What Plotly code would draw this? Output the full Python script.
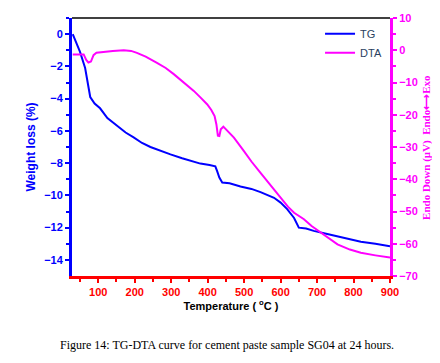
import plotly.graph_objects as go

tg_temp = [30, 40, 50, 64, 70, 78, 90, 105, 125, 151, 175, 197, 220, 243, 270, 298, 330, 360, 380, 405, 421,
           426, 432, 440, 460, 490, 520, 545, 565, 582, 600, 618, 637, 650, 670, 691, 728, 770, 820, 860, 900]
tg_loss = [0, -0.55, -1.1, -2.1, -2.8, -3.9, -4.3, -4.6, -5.2, -5.65, -6.1, -6.4, -6.75, -7.0, -7.25, -7.46,
           -7.7, -7.9, -8.03, -8.12, -8.2, -8.5, -8.9, -9.2, -9.25, -9.45, -9.6, -9.8, -10.0, -10.15, -10.45,
           -10.85, -11.4, -12.0, -12.05, -12.2, -12.4, -12.6, -12.87, -13.0, -13.15]

dta_temp = [30, 45, 60, 67, 73, 80, 87, 95, 115, 140, 170, 190, 206, 230, 261, 285, 307, 335, 362, 380, 399,
            410, 419, 424, 428, 432, 436, 443, 455, 472, 499, 520, 545, 570, 600, 620, 637, 650, 664, 685, 710,
            735, 756, 790, 820, 860, 900]
dta_uv = [-1.3, -1.2, -1.3, -3.0, -3.8, -3.5, -1.5, -0.8, -0.45, -0.2, 0.0, -0.2, -0.8, -2.0, -3.9, -5.5, -7.4,
          -10.0, -12.6, -14.6, -16.8, -18.5, -20.4, -23, -26.5, -26.6, -24.5, -23.7, -25, -27.1, -31.2, -34.5,
          -38.0, -41.5, -45.7, -48.5, -50.4, -51.3, -52.4, -54.5, -56.6, -58.7, -60.2, -61.8, -62.8, -63.6, -64.3]

BLUE = "#0000ff"
MAG = "#ff00ff"
RED = "#ff0000"
SANS = "Arial, Liberation Sans"
SERIF = "Liberation Serif, Times New Roman"

fig = go.Figure()
fig.add_trace(go.Scatter(x=tg_temp, y=tg_loss, mode="lines", name="TG",
                         line=dict(color=BLUE, width=2)))
fig.add_trace(go.Scatter(x=dta_temp, y=dta_uv, mode="lines", name="DTA", yaxis="y2",
                         line=dict(color=MAG, width=2)))

fig.update_layout(
    width=432, height=355,
    margin=dict(l=64, r=50, t=10, b=87, autoexpand=False),
    plot_bgcolor="white", paper_bgcolor="white",
    showlegend=True,
    legend=dict(x=0.78, y=0.995, xanchor="left", yanchor="top", bgcolor="rgba(0,0,0,0)",
                font=dict(family=SANS, size=11), tracegroupgap=0),
    xaxis=dict(range=[28, 900], tickvals=[100, 200, 300, 400, 500, 600, 700, 800, 900],
               ticks="outside", ticklen=4, tickwidth=2, tickcolor=RED, automargin=False,
               minor=dict(tickvals=[50, 150, 250, 350, 450, 550, 650, 750, 850], ticks="outside",
                          ticklen=3, tickwidth=2, tickcolor=RED),
               showline=True, linecolor=RED, linewidth=3, showgrid=False, zeroline=False,
               tickfont=dict(family=SANS, size=11, color=RED, weight="bold"),
               title=dict(text="Temperature ( <sup>o</sup>C )",
                          font=dict(family=SANS, size=11, color="black", weight="bold"),
                          standoff=0)),
    yaxis=dict(range=[-15, 1], tickvals=[0, -2, -4, -6, -8, -10, -12, -14], automargin=False,
               ticks="outside", ticklen=4, tickwidth=2, tickcolor=BLUE,
               minor=dict(tickvals=[1, -1, -3, -5, -7, -9, -11, -13], ticks="outside", ticklen=3,
                          tickwidth=2, tickcolor=BLUE),
               showline=True, linecolor=BLUE, linewidth=3, showgrid=False, zeroline=False,
               tickfont=dict(family=SANS, size=11, color=BLUE, weight="bold"),
               title=dict(text="Weight loss (%)",
                          font=dict(family=SANS, size=12, color=BLUE, weight="bold"),
                          standoff=6)),
    yaxis2=dict(range=[-70, 10], overlaying="y", side="right", automargin=False,
                tickvals=[10, 0, -10, -20, -30, -40, -50, -60, -70],
                ticks="outside", ticklen=4, tickwidth=2, tickcolor=MAG,
                minor=dict(tickvals=[5, -5, -15, -25, -35, -45, -55, -65], ticks="outside", ticklen=3,
                           tickwidth=2, tickcolor=MAG),
                showline=True, linecolor=MAG, linewidth=3, showgrid=False, zeroline=False,
                tickfont=dict(family=SANS, size=11, color=MAG, weight="bold")),
)

# right axis title
fig.add_annotation(text="Endo Down (μV)  Endo⟷Exo", xref="paper", yref="paper",
                   x=1.113, y=0.5, xanchor="center", yanchor="middle", textangle=-90, showarrow=False,
                   font=dict(family=SERIF, size=11, color=MAG, weight="bold"))

# top border
fig.add_shape(type="line", xref="paper", yref="paper", x0=0, x1=1, y0=1, y1=1,
              line=dict(color="black", width=1.5))

fig.add_annotation(text="Figure 14: TG-DTA curve for cement paste sample SG04 at 24 hours.",
                   xref="paper", yref="paper", x=-0.045, y=-0.267, xanchor="left", yanchor="middle",
                   showarrow=False,
                   font=dict(family=SERIF, size=12, color="black"))

fig.write_html("out.html")
